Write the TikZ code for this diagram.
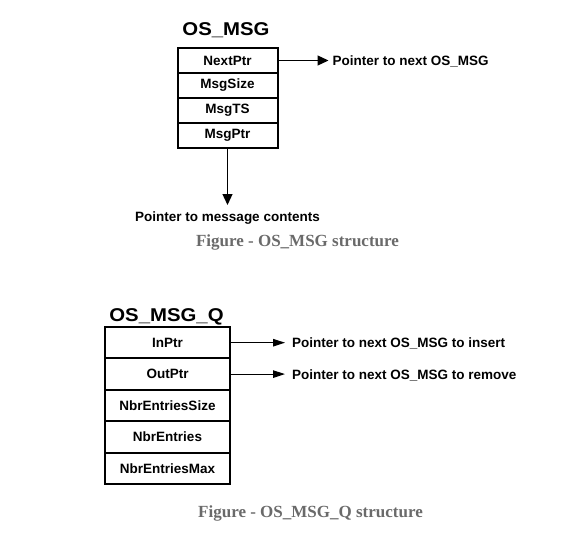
\documentclass[tikz,border=0pt]{standalone}
\usepackage{fontspec}
\setmainfont{Liberation Serif}
\setsansfont{Liberation Sans}
\newfontfamily\hdfam[FakeStretch=1.1]{Liberation Sans}
\usetikzlibrary{positioning,arrows.meta}
\definecolor{capgray}{HTML}{6A6A6A}
\newcommand{\fieldfont}{\sffamily\bfseries\fontsize{13.5}{16}\selectfont}
\newcommand{\titlefont}{\hdfam\bfseries\fontsize{18.5}{22}\selectfont}
\newcommand{\capfont}{\rmfamily\bfseries\fontsize{17}{20}\selectfont}

\begin{document}
\begin{tikzpicture}[
  x=1pt, y=-1pt,
  every node/.style={inner sep=0pt},
  field/.style={draw,line width=2pt,minimum width=100pt,minimum height=25pt,outer sep=0pt,font=\fieldfont},
  qfield/.style={field,minimum width=125pt,minimum height=31.4pt},
  ptr/.style={-{Triangle[length=11pt 0,width=10pt 0]},line width=1.3pt},
  qptr/.style={-{Triangle[length=12pt 0,width=7.5pt 0]},line width=1.1pt},
  note/.style={font=\fieldfont,anchor=base west},
  caption/.style={font=\capfont,text=capgray,anchor=base}
]
\useasboundingbox (0,0) rectangle (578,543);

% OS_MSG
\node[font=\titlefont,anchor=base] (msgtitle) at (226,35.7) {OS\_MSG};
\node[field] (next) at (227.5,60.5) {NextPtr};
\node[field,below=0pt of next] (size) {MsgSize};
\node[field,below=0pt of size] (ts) {MsgTS};
\node[field,below=0pt of ts] (mptr) {MsgPtr};

\coordinate[right=51pt of next.east] (nextend);
\draw[ptr] (next.east) -- (nextend);
\node[note] (nextlbl) at ([xshift=4pt,yshift=-5pt]nextend) {Pointer to next OS\_MSG};

\coordinate[below=57pt of mptr.south] (mptrend);
\draw[ptr] (mptr.south) -- (mptrend);
\node[note,below=7pt of mptrend] (mptrlbl) {Pointer to message contents};

\node[caption] (msgcap) at (297.5,246) {Figure - OS\_MSG structure};

% OS_MSG_Q
\node[font=\titlefont,anchor=base] (qtitle) at (166.5,321) {OS\_MSG\_Q};
\node[qfield] (inptr) at (167.5,342.7) {InPtr};
\node[qfield,below=0pt of inptr] (outptr) {OutPtr};
\node[qfield,below=0pt of outptr] (nsize) {NbrEntriesSize};
\node[qfield,below=0pt of nsize] (nent) {NbrEntries};
\node[qfield,below=0pt of nent] (nmax) {NbrEntriesMax};

\coordinate[right=55pt of inptr.east] (inend);
\coordinate[right=55pt of outptr.east] (outend);
\draw[qptr] (inptr.east) -- (inend);
\draw[qptr] (outptr.east) -- (outend);
\node[note] (inlbl) at ([xshift=7pt,yshift=-5pt]inend) {Pointer to next OS\_MSG to insert};
\node[note] (outlbl) at ([xshift=7pt,yshift=-5pt]outend) {Pointer to next OS\_MSG to remove};

\node[caption] (qcap) at (310.5,517) {Figure - OS\_MSG\_Q structure};
\end{tikzpicture}
\end{document}
